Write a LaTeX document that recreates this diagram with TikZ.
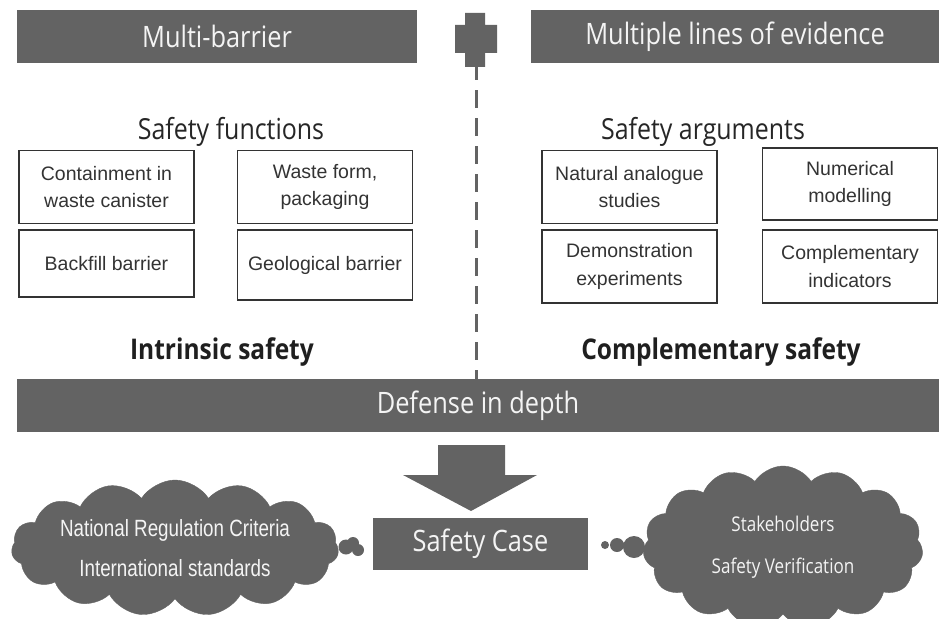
\documentclass[tikz,border=0pt]{standalone}
\usepackage{fontspec}
\usetikzlibrary{shapes.symbols,calc}
\newfontfamily\headfont[FakeStretch=0.86]{Open Sans}
\newfontfamily\boxfont{Liberation Sans}
\newfontfamily\narrowfont[FakeStretch=0.8]{Liberation Sans}
\newfontfamily\cloudfont[FakeStretch=0.84]{Open Sans}
\definecolor{slate}{HTML}{636363}
\definecolor{inkline}{HTML}{333333}
\definecolor{paper}{HTML}{F4F4F4}
\tikzset{
  banner/.style={fill=slate, text=paper, minimum height=53pt, inner sep=0pt,
    font=\headfont\fontsize{29.5}{34}\selectfont},
  heading/.style={text=black!85, font=\headfont\fontsize{29}{34}\selectfont},
  strong/.style={text=black!88, font=\headfont\bfseries\fontsize{28.5}{34}\selectfont},
  itembox/.style={draw=inkline, line width=1.3pt, minimum width=175pt, inner sep=0pt,
    align=center, text=black!80, font=\boxfont\fontsize{19.5}{27.5}\selectfont},
  puffy/.style={cloud, cloud puffs=15, cloud puff arc=115, cloud ignores aspect,
    fill=slate, draw=slate, inner sep=0pt, align=center, text=paper},
  dashline/.style={draw=slate, line width=3pt, dash pattern=on 18pt off 10pt, dash phase=5pt},
}
\begin{document}
\begin{tikzpicture}[x=1pt, y=-1pt]
\useasboundingbox (0,0) rectangle (939,618);

% top banners
\node[banner, minimum width=400pt] (multi) at (217,36.5) {Multi-barrier};
\node[banner, minimum width=408pt] (lines) at (735,36.5) {Multiple lines of evidence};

% stepped plus sign
\fill[slate] (465,13) -- (485,13) -- (485,25) -- (497,25) -- (497,53) -- (485,53)
  -- (485,67) -- (465,67) -- (465,53) -- (455,53) -- (455,25) -- (465,25) -- cycle;
\coordinate (plusbot) at (476,67);

% sub headings
\node[heading] (funcs) at (231,132) {Safety functions};
\node[heading] (args) at (703,132) {Safety arguments};

% safety functions
\node[itembox, minimum height=73pt] (contain) at (106.5,187) {Containment in\\waste canister};
\node[itembox, minimum height=73pt] (waste) at (325,187) {Waste form,\\packaging};
\node[itembox, minimum height=67pt] (backfill) at (106.5,263.5) {Backfill barrier};
\node[itembox, minimum height=70pt] (geo) at (325,265) {Geological barrier};

% safety arguments
\node[itembox, minimum height=73pt] (natural) at (629.5,187) {Natural analogue\\studies};
\node[itembox, minimum height=72pt] (numeric) at (850,184) {Numerical\\modelling};
\node[itembox, minimum height=73pt] (demo) at (629.5,266.5) {Demonstration\\experiments};
\node[itembox, minimum height=73pt] (compl) at (850,266.5) {Complementary\\indicators};

% safety labels
\node[strong] (intrinsic) at (222,352) {Intrinsic safety};
\node[strong] (complsafe) at (721,352) {Complementary safety};

% defense in depth bar
\node[banner, minimum width=922pt] (defense) at (478,405.5) {Defense in depth};

% dashed divider
\draw[dashline] (plusbot) -- (plusbot |- defense.north);

% safety case and block arrow
\node[banner, minimum width=215pt, minimum height=52pt] (case) at (480.5,544) {Safety Case};
\fill[slate] (438,445) -- (505,445) -- (505,475) -- (537,475) -- (471,511)
  -- (403,475) -- (438,475) -- cycle;

% clouds
\node[puffy, minimum width=312pt, minimum height=136pt,
  font=\narrowfont\fontsize{23.5}{40}\selectfont] (regs) at (175,548)
  {National Regulation Criteria\\International standards};
\node[puffy, minimum width=280pt, minimum height=162pt,
  font=\cloudfont\fontsize{20.3}{42}\selectfont] (stake) at (783,547)
  {Stakeholders\\Safety Verification};

% thought bubbles
\fill[slate] (346,547) circle (7.5pt) (353,543) circle (6pt) (358,550) circle (6pt);
\fill[slate] (605,545) circle (4pt) (617,545) circle (7pt) (634,547) circle (11pt);
\end{tikzpicture}
\end{document}
